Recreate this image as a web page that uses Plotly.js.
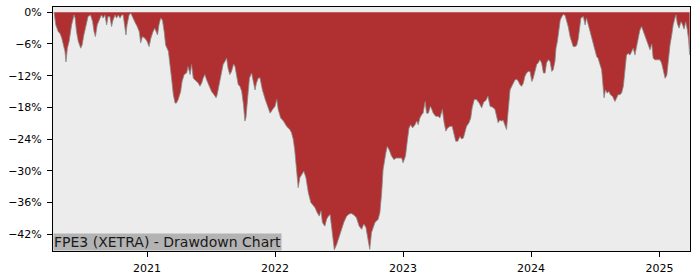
<!DOCTYPE html>
<html>
<head>
<meta charset="utf-8">
<script src="https://cdn.plot.ly/plotly-3.0.1.min.js"></script>
<style>html,body{margin:0;padding:0;background:#fff;}#chart{width:700px;height:280px;}</style>
</head>
<body>
<div id="chart"></div>
<script>
const dates = [
"2020-04-11","2020-04-14","2020-04-16","2020-04-23","2020-04-28","2020-05-03","2020-05-07","2020-05-12","2020-05-15","2020-05-19",
"2020-05-24","2020-05-31","2020-06-07","2020-06-10","2020-06-14","2020-06-19","2020-06-26","2020-06-30","2020-07-05","2020-07-11",
"2020-07-17","2020-07-24","2020-07-30","2020-08-03","2020-08-07","2020-08-12","2020-08-18","2020-08-24","2020-08-29","2020-09-03",
"2020-09-08","2020-09-12","2020-09-17","2020-09-22","2020-09-26","2020-10-02","2020-10-06","2020-10-11","2020-10-16","2020-10-21",
"2020-10-25","2020-10-30","2020-11-02","2020-11-05","2020-11-11","2020-11-16","2020-11-21","2020-11-27","2020-12-04","2020-12-10",
"2020-12-14","2020-12-19","2020-12-26","2021-01-01","2021-01-07","2021-01-12","2021-01-18","2021-01-23","2021-01-31","2021-02-04",
"2021-02-09","2021-02-14","2021-02-19","2021-02-23","2021-03-03","2021-03-07","2021-03-12","2021-03-17","2021-03-22","2021-03-26",
"2021-03-31","2021-04-07","2021-04-11","2021-04-17","2021-04-24","2021-04-28","2021-05-04","2021-05-08","2021-05-13","2021-05-18",
"2021-05-22","2021-05-27","2021-06-01","2021-06-06","2021-06-10","2021-06-15","2021-06-20","2021-06-24","2021-06-29","2021-07-04",
"2021-07-11","2021-07-17","2021-07-20","2021-07-26","2021-08-02","2021-08-06","2021-08-11","2021-08-16","2021-08-20","2021-08-25",
"2021-08-30","2021-09-05","2021-09-09","2021-09-13","2021-09-18","2021-09-23","2021-09-28","2021-10-03","2021-10-07","2021-10-10",
"2021-10-15","2021-10-20","2021-10-26","2021-10-31","2021-11-05","2021-11-09","2021-11-14","2021-11-19","2021-11-26","2021-12-04",
"2021-12-08","2021-12-18","2021-12-25","2022-01-01","2022-01-06","2022-01-10","2022-01-17","2022-01-25","2022-02-03","2022-02-12",
"2022-02-17","2022-02-22","2022-02-26","2022-03-03","2022-03-08","2022-03-13","2022-03-18","2022-03-24","2022-03-30","2022-04-06",
"2022-04-13","2022-04-20","2022-04-25","2022-05-01","2022-05-07","2022-05-12","2022-05-16","2022-05-23","2022-05-28","2022-06-02",
"2022-06-07","2022-06-12","2022-06-16","2022-06-19","2022-06-26","2022-07-03","2022-07-10","2022-07-16","2022-07-24","2022-07-31",
"2022-08-07","2022-08-14","2022-08-21","2022-08-29","2022-09-05","2022-09-11","2022-09-17","2022-09-23","2022-09-28","2022-10-03",
"2022-10-13","2022-10-22","2022-10-27","2022-11-01","2022-11-05","2022-11-13","2022-11-17","2022-11-22","2022-11-29","2022-12-06",
"2022-12-12","2022-12-18","2022-12-28","2023-01-01","2023-01-08","2023-01-13","2023-01-18","2023-01-23","2023-01-28","2023-02-04",
"2023-02-09","2023-02-13","2023-02-18","2023-02-23","2023-02-27","2023-03-05","2023-03-09","2023-03-14","2023-03-20","2023-03-24",
"2023-03-28","2023-04-04","2023-04-11","2023-04-16","2023-04-23","2023-04-28","2023-05-03","2023-05-08","2023-05-15","2023-05-21",
"2023-05-25","2023-05-31","2023-06-06","2023-06-12","2023-06-17","2023-06-22","2023-06-26","2023-07-01","2023-07-08","2023-07-13",
"2023-07-17","2023-07-23","2023-07-29","2023-08-06","2023-08-13","2023-08-19","2023-08-25","2023-08-31","2023-09-06","2023-09-14",
"2023-09-20","2023-09-25","2023-09-29","2023-10-04","2023-10-09","2023-10-13","2023-10-18","2023-10-23","2023-10-28","2023-11-02",
"2023-11-07","2023-11-11","2023-11-16","2023-11-21","2023-11-26","2023-11-30","2023-12-05","2023-12-10","2023-12-14","2023-12-19",
"2023-12-24","2023-12-29","2024-01-03","2024-01-07","2024-01-12","2024-01-17","2024-01-21","2024-01-26","2024-01-31","2024-02-05",
"2024-02-10","2024-02-14","2024-02-19","2024-02-24","2024-02-29","2024-03-04","2024-03-09","2024-03-12","2024-03-16","2024-03-19",
"2024-03-24","2024-03-28","2024-04-02","2024-04-07","2024-04-11","2024-04-16","2024-04-21","2024-04-25","2024-04-30","2024-05-05",
"2024-05-10","2024-05-14","2024-05-18","2024-05-22","2024-05-29","2024-06-03","2024-06-07","2024-06-12","2024-06-17","2024-06-21",
"2024-06-26","2024-07-01","2024-07-06","2024-07-10","2024-07-15","2024-07-20","2024-07-23","2024-07-27","2024-07-31","2024-08-05",
"2024-08-10","2024-08-14","2024-08-20","2024-08-27","2024-09-01","2024-09-05","2024-09-10","2024-09-15","2024-09-20","2024-09-24",
"2024-09-29","2024-10-04","2024-10-09","2024-10-14","2024-10-18","2024-10-23","2024-10-28","2024-11-01","2024-11-06","2024-11-11",
"2024-11-15","2024-11-20","2024-11-25","2024-11-30","2024-12-05","2024-12-10","2024-12-14","2024-12-19","2024-12-29","2025-01-02",
"2025-01-07","2025-01-12","2025-01-17","2025-01-22","2025-01-26","2025-01-31","2025-02-05","2025-02-09","2025-02-14","2025-02-17",
"2025-02-21","2025-02-26","2025-03-03","2025-03-07","2025-03-12","2025-03-17","2025-03-21","2025-03-25","2025-03-28"
];
const drawdown = [
0,-1.1,-2.4,-3.7,-4.0,-4.9,-6.2,-7.4,-9.4,-6.8,
-5.5,-2.4,-0.5,-1.1,-3.7,-5.5,-6.8,-6.2,-4.3,-2.4,
-0.8,-0.5,-1.8,-3.7,-4.6,-2.4,-1.5,-0.5,-1.1,-0.5,
-2.4,-0.8,-0.8,-2.7,-1.5,-0.5,-1.1,-0.5,-1.1,-0.5,
-0.5,-3.0,-4.3,-2.4,-0.5,-0.2,-0.8,-1.8,-2.7,-3.7,
-5.8,-4.6,-4.9,-5.5,-6.5,-4.9,-3.7,-3.0,-4.3,-2.4,
-1.1,-1.5,-3.7,-6.2,-7.4,-9.3,-12.5,-15.6,-17.2,-17.2,
-16.5,-15.0,-13.1,-11.8,-11.5,-10.3,-11.8,-9.9,-12.5,-12.8,
-13.1,-13.4,-14.0,-13.4,-12.5,-11.8,-12.8,-13.4,-14.0,-15.0,
-15.6,-16.2,-15.6,-13.7,-11.2,-9.9,-9.3,-8.7,-10.6,-11.8,
-11.2,-9.8,-10.3,-11.8,-13.7,-14.0,-15.0,-17.5,-20.6,-20.0,
-16.2,-12.5,-11.5,-13.1,-14.7,-13.4,-12.5,-12.4,-14.7,-16.5,
-17.2,-19.1,-18.4,-17.8,-16.5,-18.4,-20.0,-20.6,-21.6,-22.2,
-22.8,-24.1,-26.0,-29.8,-33.2,-31.3,-30.7,-30.1,-31.3,-34.2,
-36.0,-36.7,-37.0,-37.9,-38.6,-37.6,-39.8,-40.5,-39.2,-38.6,
-38.3,-41.1,-44.2,-45.0,-43.9,-42.3,-41.1,-39.8,-38.6,-38.2,
-38.1,-38.4,-38.9,-40.5,-41.1,-40.1,-40.7,-43.0,-44.9,-41.7,
-39.8,-39.2,-37.9,-34.2,-29.8,-26.6,-25.4,-26.0,-27.2,-27.9,
-27.6,-27.6,-27.6,-28.5,-27.2,-24.4,-21.9,-21.3,-21.9,-21.3,
-20.6,-21.3,-20.0,-19.4,-19.1,-16.9,-19.1,-19.1,-17.8,-18.4,
-19.1,-19.7,-19.7,-20.0,-18.4,-20.9,-22.5,-21.9,-21.6,-21.6,
-22.8,-24.4,-24.4,-23.5,-24.0,-23.8,-22.8,-21.6,-20.9,-20.0,
-18.1,-16.5,-16.5,-17.2,-18.1,-17.0,-16.7,-15.9,-17.8,-18.0,
-18.4,-20.0,-20.9,-20.4,-20.6,-20.4,-21.3,-22.2,-18.4,-14.7,
-14.0,-13.4,-12.8,-12.7,-13.1,-13.7,-14.0,-13.4,-12.2,-11.5,
-11.2,-11.2,-13.1,-12.5,-11.2,-9.9,-9.6,-9.0,-9.6,-11.5,
-11.5,-9.6,-9.0,-9.3,-11.2,-10.9,-9.3,-6.8,-5.5,-3.6,
-1.5,-0.9,-0.4,-0.6,-1.5,-2.8,-4.6,-5.5,-6.5,-6.5,
-6.3,-5.2,-3.0,-1.1,-0.8,-2.4,-1.1,-2.4,-3.4,-4.6,
-6.2,-7.4,-8.4,-8.7,-9.6,-10.9,-13.1,-16.2,-14.7,-15.3,
-15.0,-15.6,-15.9,-16.9,-16.2,-15.6,-15.6,-15.3,-14.0,-11.2,
-8.1,-7.8,-8.1,-7.4,-6.8,-8.1,-6.6,-5.5,-3.4,-2.7,
-3.4,-4.6,-5.2,-6.2,-7.1,-6.0,-8.7,-9.0,-9.0,-9.0,
-9.6,-11.2,-12.5,-11.9,-8.7,-6.2,-4.3,-2.4,-1.1,-0.5,
-2.2,-3.0,-1.8,-2.2,-3.2,-1.8,-3.2,-5.2,-8.1
];
const yTickVals = [0,-6,-12,-18,-24,-30,-36,-42];
const yTickText = ["0%","\u22126%","\u221212%","\u221218%","\u221224%","\u221230%","\u221236%","\u221242%"];
const xTickVals = ["2021-01-01","2022-01-01","2023-01-01","2024-01-01","2025-01-01"];
const xTickText = ["2021","2022","2023","2024","2025"];
const chartLabel = "FPE3 (XETRA) - Drawdown Chart";

const trace = {
  x: dates, y: drawdown, type: 'scatter', mode: 'lines',
  fill: 'tozeroy', fillcolor: '#B03031',
  line: {color: '#8a8a8a', width: 0.8},
  hoverinfo: 'skip'
};
const font = {family: 'DejaVu Sans', size: 11, color: '#000'};
const layout = {
  width: 700, height: 280,
  margin: {l: 53, r: 10, t: 7, b: 29},
  paper_bgcolor: '#ffffff', plot_bgcolor: '#ECECEC',
  showlegend: false,
  font: font,
  xaxis: {
    type: 'date', range: ['2020-04-08', '2025-03-29'],
    tickvals: xTickVals, ticktext: xTickText,
    ticks: 'outside', ticklen: 5, tickcolor: '#000', tickwidth: 1,
    showgrid: false, zeroline: false,
    showline: true, linecolor: '#000', linewidth: 1, mirror: true,
    tickfont: font, ticklabelstandoff: 2
  },
  yaxis: {
    range: [-45.2, 1.0],
    tickvals: yTickVals, ticktext: yTickText,
    ticks: 'outside', ticklen: 5, tickcolor: '#000', tickwidth: 1,
    showgrid: false, zeroline: false,
    showline: true, linecolor: '#000', linewidth: 1, mirror: true,
    tickfont: font, ticklabelstandoff: 3
  },
  annotations: [{
    text: chartLabel, xref: 'paper', yref: 'paper', x: 0, y: 0,
    xanchor: 'left', yanchor: 'bottom', showarrow: false,
    font: {family: 'DejaVu Sans', size: 14, color: '#1a1a1a'},
    bgcolor: '#B3B3B3', borderpad: 0
  }]
};
Plotly.newPlot('chart', [trace], layout, {displayModeBar: false, staticPlot: true});
</script>
</body>
</html>
